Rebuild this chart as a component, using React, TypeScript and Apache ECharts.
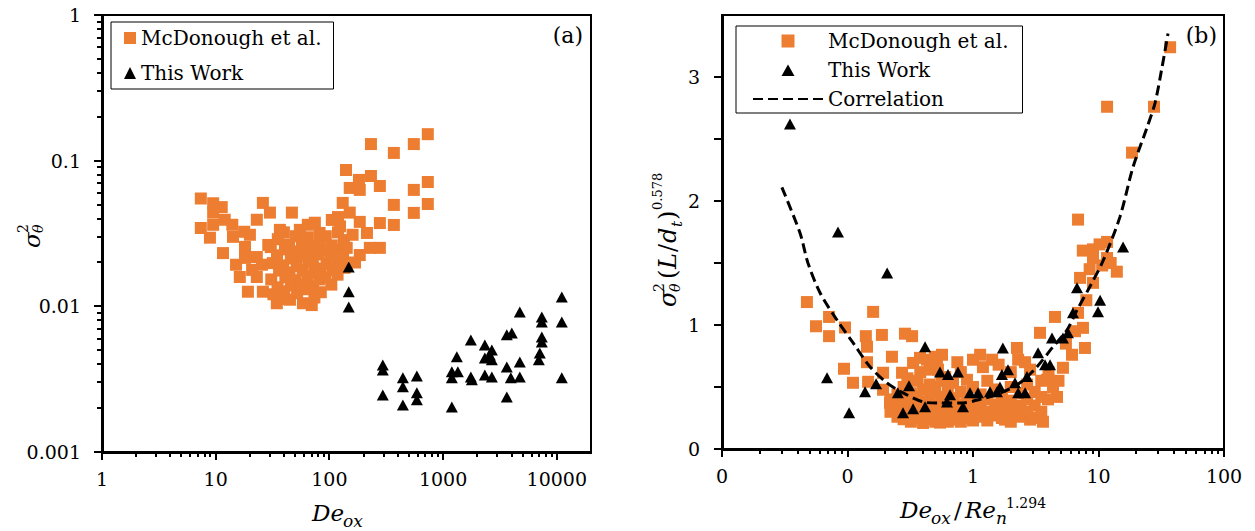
import React, { useEffect, useRef } from 'react';
import * as echarts from 'echarts';

// ---------- data ----------
// Panel (a): sigma_theta^2 vs De_ox
const mcdonoughA: number[][] = [
  [7.4, 0.055], [9.5, 0.051], [7.4, 0.0345], [8.9, 0.0296], [11.6, 0.0232], [9.5, 0.044], [9.5, 0.0363],
  [11.3, 0.048], [12.0, 0.0393], [14.2, 0.030], [18.1, 0.0256], [15.1, 0.0193], [18.1, 0.0215], [16.3, 0.0159],
  [19.2, 0.0126], [23, 0.0159], [26, 0.0126], [26, 0.0513], [23, 0.0393], [30, 0.044], [36.7, 0.0335],
  [46.8, 0.044], [23, 0.0218], [20, 0.031], [29, 0.0264], [25.5, 0.0193], [20.9, 0.0178], [14, 0.0363],
  [17.8, 0.0325], [34.5, 0.0105], [45, 0.0111], [58.5, 0.0105], [70, 0.0102],
  [30.5, 0.0255], [31.8, 0.0198], [30.8, 0.0153], [32.2, 0.0121],
  [35.2, 0.0289], [34.6, 0.0224], [36.1, 0.0176], [35.0, 0.0135], [36.4, 0.0112],
  [39.8, 0.0322], [40.6, 0.0246], [39.2, 0.0191], [41.0, 0.0158], [40.1, 0.0127],
  [44.2, 0.0266], [45.8, 0.0213], [44.6, 0.0171], [46.0, 0.0139],
  [50.8, 0.0303], [49.9, 0.0238], [51.6, 0.0189], [50.2, 0.0151], [52.0, 0.0123],
  [57.3, 0.0276], [56.4, 0.0223], [58.2, 0.0177], [57.0, 0.0141],
  [64.6, 0.0298], [63.5, 0.0242], [65.8, 0.0203], [64.0, 0.0161], [66.2, 0.0131],
  [72.9, 0.0258], [71.5, 0.0209], [74.0, 0.0171], [72.0, 0.0137], [73.8, 0.0115],
  [82.4, 0.0284], [80.8, 0.0227], [83.6, 0.0182], [81.5, 0.0153], [84.0, 0.0125],
  [93, 0.0303], [91.5, 0.0245], [94.6, 0.0195], [92.0, 0.0158],
  [105, 0.0262], [103, 0.0216], [107, 0.0177], [104, 0.0141],
  [119, 0.0322], [117, 0.0245], [121, 0.0201], [118, 0.0165],
  [134, 0.0285], [132, 0.0227], [136, 0.0184],
  [232, 0.13], [369, 0.113], [553, 0.13], [734, 0.152], [140, 0.0863], [182, 0.0738], [232, 0.0785],
  [278, 0.067], [151, 0.065], [185, 0.063], [734, 0.0714], [553, 0.063], [734, 0.0504], [369, 0.0497],
  [553, 0.0438], [131, 0.0513], [151, 0.044], [105, 0.0392], [124, 0.0354], [185, 0.038], [214, 0.0319],
  [278, 0.0373], [369, 0.0362], [82, 0.0319], [63, 0.0286], [227, 0.0252], [278, 0.0252], [142, 0.0252],
  [185, 0.0225], [131, 0.0218], [168, 0.02], [119, 0.041], [160, 0.031], [64.6, 0.0363], [55, 0.0335],
  [74.5, 0.0375],
];

const thisWorkA: number[][] = [
  [148, 0.0186], [148, 0.0126], [148, 0.0099],
  [295, 0.00396], [295, 0.00366], [295, 0.00246],
  [443, 0.00323], [443, 0.0028], [443, 0.0021],
  [588, 0.00333], [588, 0.00255], [588, 0.00228],
  [1194, 0.00355], [1194, 0.00323], [1321, 0.0045], [1349, 0.00355], [1194, 0.00204],
  [1755, 0.00588], [1755, 0.00327], [1791, 0.00313],
  [2330, 0.00543], [2330, 0.00442], [2330, 0.00338], [2685, 0.00502], [2685, 0.00429], [2685, 0.00327], [2577, 0.00464],
  [3634, 0.00637], [3634, 0.00384], [3634, 0.00239], [4022, 0.00657], [3943, 0.00323], [4729, 0.00916],
  [4729, 0.00415], [4729, 0.00327],
  [7385, 0.00845], [7385, 0.00781], [7385, 0.00617], [7385, 0.0057], [7093, 0.00479], [6950, 0.00429],
  [11070, 0.0116], [11070, 0.00781], [11070, 0.00323],
];

// Panel (b): sigma_theta^2 (L/d_t)^0.578 vs De_ox / Re_n^1.294
const mcdonoughB: number[][] = [
  [0.0475, 1.185], [0.0561, 0.99], [0.0713, 1.065], [0.0713, 0.91], [0.0955, 0.98], [0.0938, 0.647],
  [0.1106, 0.534], [0.140, 0.91], [0.143, 0.825], [0.143, 0.70], [0.16, 1.106], [0.188, 0.92], [0.226, 0.744],
  [0.287, 0.93], [0.327, 0.91], [0.192, 0.615], [0.146, 0.542], [0.192, 0.478], [0.218, 0.373], [0.272, 0.615],
  [0.333, 0.694], [0.378, 0.735], [0.454, 0.64], [0.516, 0.72], [0.43, 0.72], [0.497, 0.744], [0.566, 0.76],
  [0.526, 0.64], [0.497, 0.50], [0.693, 0.534], [0.895, 0.558], [1.14, 0.76], [1.42, 0.72], [2.24, 0.815],
  [2.29, 0.72], [2.85, 0.64], [3.42, 0.937], [3.89, 0.558], [4.34, 0.50], [4.50, 1.065], [5.21, 0.655],
  [6.15, 0.76], [7.13, 1.38], [6.87, 1.098], [7.52, 0.977], [7.80, 0.815], [9.04, 1.34], [10.7, 1.48],
  [14.0, 1.43], [2.85, 0.237], [3.61, 0.22], [3.96, 0.40], [4.67, 0.42], [1.80, 0.237], [1.44, 0.277],
  [0.946, 0.26], [0.746, 0.237], [0.546, 0.213],
  [37.2, 3.24], [11.7, 2.76], [27.7, 2.76], [18.5, 2.39], [6.87, 1.85], [11.7, 1.67], [9.04, 1.61],
  [9.04, 1.54], [11.7, 1.54],
  [0.22, 0.30], [0.22, 0.40], [0.25, 0.26], [0.25, 0.35], [0.25, 0.44], [0.28, 0.24], [0.28, 0.32],
  [0.28, 0.40], [0.28, 0.50], [0.32, 0.22], [0.32, 0.28], [0.32, 0.36], [0.32, 0.45], [0.36, 0.25],
  [0.36, 0.33], [0.36, 0.42], [0.36, 0.55], [0.40, 0.21], [0.40, 0.29], [0.40, 0.38], [0.40, 0.48],
  [0.45, 0.24], [0.45, 0.31], [0.45, 0.40], [0.45, 0.52], [0.50, 0.22], [0.50, 0.28], [0.50, 0.35],
  [0.50, 0.45], [0.56, 0.26], [0.56, 0.33], [0.56, 0.42], [0.56, 0.55], [0.63, 0.22], [0.63, 0.30],
  [0.63, 0.38], [0.63, 0.47], [0.70, 0.25], [0.70, 0.32], [0.70, 0.41], [0.80, 0.22], [0.80, 0.29],
  [0.80, 0.36], [0.80, 0.46], [0.90, 0.25], [0.90, 0.33], [0.90, 0.40], [1.0, 0.23], [1.0, 0.30],
  [1.0, 0.38], [1.0, 0.50], [1.15, 0.26], [1.15, 0.34], [1.15, 0.44], [1.3, 0.23], [1.3, 0.30],
  [1.3, 0.40], [1.3, 0.55], [1.5, 0.27], [1.5, 0.36], [1.5, 0.48], [1.7, 0.25], [1.7, 0.33], [1.7, 0.42],
  [2.0, 0.22], [2.0, 0.30], [2.0, 0.39], [2.0, 0.50], [2.0, 0.62], [2.4, 0.26], [2.4, 0.35], [2.4, 0.45],
  [2.7, 0.30], [2.7, 0.40], [2.7, 0.52], [3.1, 0.25], [3.1, 0.35], [3.1, 0.46], [3.5, 0.30], [3.5, 0.42],
  [3.5, 0.55], [0.6, 0.58], [0.8, 0.62], [1.2, 0.66], [1.0, 0.72], [0.75, 0.70], [0.38, 0.62], [0.3, 0.57],
  [1.6, 0.68], [2.6, 0.70], [4.0, 0.62], [4.8, 0.55], [5.5, 0.85], [6.5, 0.95], [8.0, 1.2], [8.5, 1.45],
  [7.5, 1.6], [10.2, 1.65], [12.5, 1.5],
];

const thisWorkB: number[][] = [
  [0.0348, 2.62], [0.084, 1.75], [0.207, 1.42], [0.0687, 0.574], [0.103, 0.292], [0.138, 0.462], [0.169, 0.526],
  [0.252, 0.454], [0.309, 0.51], [0.277, 0.292], [0.333, 0.324], [0.415, 0.34], [0.415, 0.825], [0.546, 0.62],
  [0.632, 0.60], [0.759, 0.62], [0.656, 0.437], [0.621, 0.38], [0.832, 0.34], [0.946, 0.453], [1.096, 0.453],
  [1.366, 0.462], [1.552, 0.462], [1.70, 0.60], [1.64, 0.50], [1.73, 0.815], [1.90, 0.64], [2.16, 0.534],
  [2.29, 0.453], [2.60, 0.453], [2.69, 0.584], [3.30, 0.776], [3.75, 0.68], [4.11, 0.68], [4.26, 0.896],
  [5.21, 0.896], [5.71, 0.937], [6.26, 1.098], [6.74, 1.30], [10.3, 1.20], [9.91, 1.106], [15.7, 1.63],
];

const correlationB: number[][] = [
  [0.030, 2.11], [0.0419, 1.74], [0.0484, 1.50], [0.0604, 1.26], [0.0824, 1.04], [0.1106, 0.857],
  [0.151, 0.664], [0.206, 0.534], [0.277, 0.453], [0.40, 0.38], [0.526, 0.37], [0.787, 0.37], [1.14, 0.40],
  [1.73, 0.46], [2.37, 0.534], [3.24, 0.664], [4.34, 0.825], [5.61, 0.96], [6.74, 1.12], [8.55, 1.31],
  [10.9, 1.52], [14.8, 1.87], [18.8, 2.27], [24.3, 2.59], [28.2, 2.79], [32.1, 3.08], [35.8, 3.35],
];

// axis ranges and tick labels
const xRangeA = [1, 20000];
const yRangeA = [0.001, 1];
const xRangeB = [0.01, 100];
const yRangeB = [0, 3.5];
const xTicksA = [1, 10, 100, 1000, 10000];
const xTickLabelsA = ['1', '10', '100', '1000', '10000'];
const yTicksA = [0.001, 0.01, 0.1, 1];
const yTickLabelsA = ['0.001', '0.01', '0.1', '1'];
const xTicksB = [0.01, 0.1, 1, 10, 100];
const xTickLabelsB = ['0', '0', '1', '10', '100'];
const yTicksB = [0, 0.5, 1, 1.5, 2, 2.5, 3];
const yTickLabelsB = ['0', '1', '2', '3'];

// ---------- styling helpers ----------
const SERIF = "'DejaVu Serif', serif";
const ORANGE = '#ED7D31';

function logLabel(ticks: number[], labels: string[]) {
  return (v: number) => {
    const i = ticks.findIndex((t) => Math.abs(Math.log10(t) - Math.log10(v)) < 1e-6);
    return i >= 0 ? labels[i] : '';
  };
}
function minorValues(min: number, max: number) {
  const out: number[] = [];
  for (let e = Math.floor(Math.log10(min)); e <= Math.ceil(Math.log10(max)); e++) {
    for (let k = 2; k <= 9; k++) {
      const v = parseFloat((k * Math.pow(10, e)).toPrecision(6));
      if (v > min && v < max) out.push(v);
    }
  }
  return out;
}
// snap a line centre so that a stroke of width w is pixel-crisp
function crisp(v: number, w: number) {
  return Math.round(w) % 2 === 1 ? Math.floor(v) + 0.5 : Math.round(v);
}

const AXIS_W = 3;
const BORDER_W = 2;
const TICK_W = 2;

// Tick marks drawn through the axes' own scales (custom series, api.coord)
function tickSeries(xi: number, yi: number, dir: 'x' | 'y', values: number[], anchor: number, len: number) {
  return {
    type: 'custom',
    coordinateSystem: 'cartesian2d',
    xAxisIndex: xi,
    yAxisIndex: yi,
    silent: true,
    clip: false,
    z: 6,
    data: values.map((v) => (dir === 'x' ? [v, anchor] : [anchor, v])),
    renderItem: (_params: any, api: any) => {
      const p = api.coord([api.value(0), api.value(1)]);
      let shape;
      if (dir === 'x') {
        const x = crisp(p[0], TICK_W);
        const y0 = Math.round(p[1]);
        shape = { x1: x, y1: y0, x2: x, y2: y0 + len };
      } else {
        const y = crisp(p[1], TICK_W);
        const x0 = Math.round(p[0]);
        shape = { x1: x0 - len, y1: y, x2: x0, y2: y };
      }
      return { type: 'line', shape, style: { stroke: '#000', lineWidth: TICK_W, fill: null } };
    },
  };
}

// Plot frame (axis lines + box) through the axes' own scales
function frameSeries(xi: number, yi: number, xr: number[], yr: number[]) {
  return {
    type: 'custom',
    coordinateSystem: 'cartesian2d',
    xAxisIndex: xi,
    yAxisIndex: yi,
    silent: true,
    clip: false,
    z: 7,
    data: [[xr[0], yr[0], xr[1], yr[1]]],
    renderItem: (_params: any, api: any) => {
      const a = api.coord([api.value(0), api.value(1)]);
      const b = api.coord([api.value(2), api.value(3)]);
      const L = crisp(a[0], AXIS_W);
      const B = crisp(a[1], AXIS_W);
      const R = crisp(b[0], BORDER_W);
      const T = crisp(b[1], BORDER_W);
      const st = (w: number) => ({ stroke: '#000', lineWidth: w, fill: null });
      return {
        type: 'group',
        children: [
          { type: 'line', shape: { x1: L, y1: T, x2: R + 1, y2: T }, style: st(BORDER_W) },
          { type: 'line', shape: { x1: R, y1: T, x2: R, y2: B }, style: st(BORDER_W) },
          { type: 'line', shape: { x1: L - 1.5, y1: B, x2: R + 1, y2: B }, style: st(AXIS_W) },
          { type: 'line', shape: { x1: L, y1: T - 1, x2: L, y2: B + 1.5 }, style: st(AXIS_W) },
        ],
      };
    },
  };
}

const labelStyle = { color: '#000', fontFamily: SERIF, fontSize: 19 };

type Piece = { t: string; x: number; size: number; italic?: boolean; base?: number };
function mathText(pieces: Piece[], x: number, y: number, rotation = 0) {
  return {
    type: 'group',
    x,
    y,
    rotation,
    silent: true,
    children: pieces.map((p) => ({
      type: 'text',
      x: p.x,
      y: (p.base || 0) - 0.36 * p.size,
      style: {
        text: p.t,
        fontSize: p.size,
        fontFamily: SERIF,
        fontStyle: p.italic ? 'italic' : 'normal',
        fill: '#000',
        align: 'left',
        verticalAlign: 'middle',
        textAlign: 'left',
        textVerticalAlign: 'middle',
      },
    })),
  };
}

const gridA = { left: 102, top: 15, width: 489, height: 437 };
const gridB = { left: 722, top: 15, width: 502, height: 434 };

const SQ_ICON = 'path://M0,0M70,14M28.5,0.5h13v13h-13z';
const TRI_ICON = 'path://M0,0M70,14M28.5,13L35,1.5L41.5,13z';

const option: any = {
  animation: false,
  backgroundColor: '#fff',
  grid: [
    { ...gridA, show: false, containLabel: false, outerBoundsMode: 'none' },
    { ...gridB, show: false, containLabel: false, outerBoundsMode: 'none' },
  ],
  xAxis: [
    {
      type: 'log', logBase: 10, gridIndex: 0, min: xRangeA[0], max: xRangeA[1],
      axisLine: { show: false },
      axisTick: { show: false },
      axisLabel: { ...labelStyle, margin: 17, customValues: xTicksA, formatter: logLabel(xTicksA, xTickLabelsA) },
      splitLine: { show: false }, minorTick: { show: false },
    },
    {
      type: 'log', logBase: 10, gridIndex: 1, min: xRangeB[0], max: xRangeB[1],
      axisLine: { show: false },
      axisTick: { show: false },
      axisLabel: { ...labelStyle, margin: 17, customValues: xTicksB, formatter: logLabel(xTicksB, xTickLabelsB) },
      splitLine: { show: false }, minorTick: { show: false },
    },
  ],
  yAxis: [
    {
      type: 'log', logBase: 10, gridIndex: 0, min: yRangeA[0], max: yRangeA[1],
      axisLine: { show: false },
      axisTick: { show: false },
      axisLabel: { ...labelStyle, margin: 21, customValues: yTicksA, formatter: logLabel(yTicksA, yTickLabelsA) },
      splitLine: { show: false }, minorTick: { show: false },
    },
    {
      type: 'value', gridIndex: 1, min: yRangeB[0], max: yRangeB[1], interval: 0.5,
      axisLine: { show: false },
      axisTick: { show: false },
      axisLabel: {
        ...labelStyle, margin: 22,
        formatter: (v: number) => (Number.isInteger(v) && v < yTickLabelsB.length ? yTickLabelsB[v] : ''),
      },
      splitLine: { show: false },
    },
  ],
  legend: [
    {
      orient: 'vertical', left: 111, top: 22, padding: [6, 12, 6, 13], itemGap: 15,
      itemWidth: 12, itemHeight: 12, itemTextGap: 7,
      borderColor: '#000', borderWidth: 1, backgroundColor: '#fff', borderRadius: 0,
      selectedMode: false,
      textStyle: { fontFamily: SERIF, fontSize: 20, color: '#000' },
      data: [
        { name: 'McDonough et al.', icon: 'rect' },
        { name: 'This Work', icon: 'triangle' },
      ],
    },
    {
      orient: 'vertical', left: 736, top: 26, padding: [5, 14, 4, 16], itemGap: 9,
      itemWidth: 70, itemHeight: 14, itemTextGap: 6,
      borderColor: '#000', borderWidth: 1, backgroundColor: '#fff', borderRadius: 0,
      selectedMode: false,
      textStyle: { fontFamily: SERIF, fontSize: 20, color: '#000' },
      data: [
        { name: 'McDonough et al.', icon: SQ_ICON },
        { name: 'This Work', icon: TRI_ICON },
        { name: 'Correlation', itemStyle: { opacity: 0 } },
      ],
    },
  ],
  series: [
    {
      type: 'scatter', name: 'McDonough et al.', xAxisIndex: 0, yAxisIndex: 0, data: mcdonoughA,
      symbol: 'rect', symbolSize: 12, itemStyle: { color: ORANGE, opacity: 1 }, z: 2, silent: true,
    },
    {
      type: 'scatter', name: 'This Work', xAxisIndex: 0, yAxisIndex: 0, data: thisWorkA,
      symbol: 'triangle', symbolSize: [12, 11], itemStyle: { color: '#000', opacity: 1 }, z: 3, silent: true,
    },
    {
      type: 'scatter', name: 'McDonough et al.', xAxisIndex: 1, yAxisIndex: 1, data: mcdonoughB,
      symbol: 'rect', symbolSize: 12, itemStyle: { color: ORANGE, opacity: 1 }, z: 2, silent: true,
    },
    {
      type: 'scatter', name: 'This Work', xAxisIndex: 1, yAxisIndex: 1, data: thisWorkB,
      symbol: 'triangle', symbolSize: [12, 11], itemStyle: { color: '#000', opacity: 1 }, z: 3, silent: true,
    },
    {
      type: 'line', name: 'Correlation', xAxisIndex: 1, yAxisIndex: 1, data: correlationB,
      smooth: 0.3, symbol: 'none', showSymbol: false, silent: true,
      lineStyle: { color: '#000', width: 3, type: [10, 5] }, itemStyle: { color: '#000' }, z: 4,
    },
    // frames and axis ticks
    frameSeries(0, 0, xRangeA, yRangeA),
    frameSeries(1, 1, xRangeB, yRangeB),
    tickSeries(0, 0, 'x', xTicksA, yRangeA[0], 8),
    tickSeries(0, 0, 'x', minorValues(xRangeA[0], xRangeA[1]), yRangeA[0], 5),
    tickSeries(0, 0, 'y', yTicksA, xRangeA[0], 8),
    tickSeries(0, 0, 'y', minorValues(yRangeA[0], yRangeA[1]), xRangeA[0], 5),
    tickSeries(1, 1, 'x', xTicksB, yRangeB[0], 8),
    tickSeries(1, 1, 'x', minorValues(xRangeB[0], xRangeB[1]), yRangeB[0], 5),
    tickSeries(1, 1, 'y', yTicksB, xRangeB[0], 8),
  ],
  graphic: {
    elements: [
      {
        type: 'text', right: 1255 - 583, top: 24, silent: true,
        style: { text: '(a)', fontSize: 22, fontFamily: SERIF, fill: '#000' },
      },
      {
        type: 'text', right: 1255 - 1217, top: 24, silent: true,
        style: { text: '(b)', fontSize: 22, fontFamily: SERIF, fill: '#000' },
      },
      // De_ox (panel a x title)
      mathText([
        { t: 'De', x: 0, size: 23, italic: true },
        { t: 'ox', x: 31, size: 17, italic: true, base: 6 },
      ], 312, 521),
      // De_ox / Re_n^1.294 (panel b x title)
      mathText([
        { t: 'De', x: 0, size: 23, italic: true },
        { t: 'ox', x: 31, size: 17, italic: true, base: 6 },
        { t: '/', x: 54, size: 23 },
        { t: 'Re', x: 65, size: 23, italic: true },
        { t: 'n', x: 96, size: 17, italic: true, base: 6 },
        { t: '1.294', x: 106, size: 14, base: -10 },
      ], 900, 518),
      // sigma_theta^2 (panel a y title)
      mathText([
        { t: 'σ', x: 0, size: 23, italic: true },
        { t: '2', x: 15, size: 14, base: -12 },
        { t: 'θ', x: 15, size: 14, italic: true, base: 3 },
      ], 40, 248, Math.PI / 2),
      // sigma_theta^2 (L/d_t)^0.578 (panel b y title)
      mathText([
        { t: 'σ', x: 0, size: 24, italic: true },
        { t: '2', x: 15, size: 14, base: -13 },
        { t: 'θ', x: 15, size: 14, italic: true, base: 3 },
        { t: '(', x: 28, size: 24 },
        { t: 'L', x: 38, size: 24, italic: true },
        { t: '/', x: 55, size: 24 },
        { t: 'd', x: 64, size: 24, italic: true },
        { t: 't', x: 80, size: 15, italic: true, base: 5 },
        { t: ')', x: 87, size: 24 },
        { t: '0.578', x: 97, size: 13, base: -15 },
      ], 677, 307, Math.PI / 2),
    ],
  },
};

export default function App() {
  const ref = useRef<HTMLDivElement>(null);
  useEffect(() => {
    if (!ref.current) return;
    const chart = echarts.init(ref.current, null, { renderer: 'svg' });
    chart.setOption(option);
    return () => chart.dispose();
  }, []);
  return (
    <div
      ref={ref}
      style={{ position: 'absolute', left: 0, top: 0, width: 1255, height: 531, background: '#fff' }}
    />
  );
}
